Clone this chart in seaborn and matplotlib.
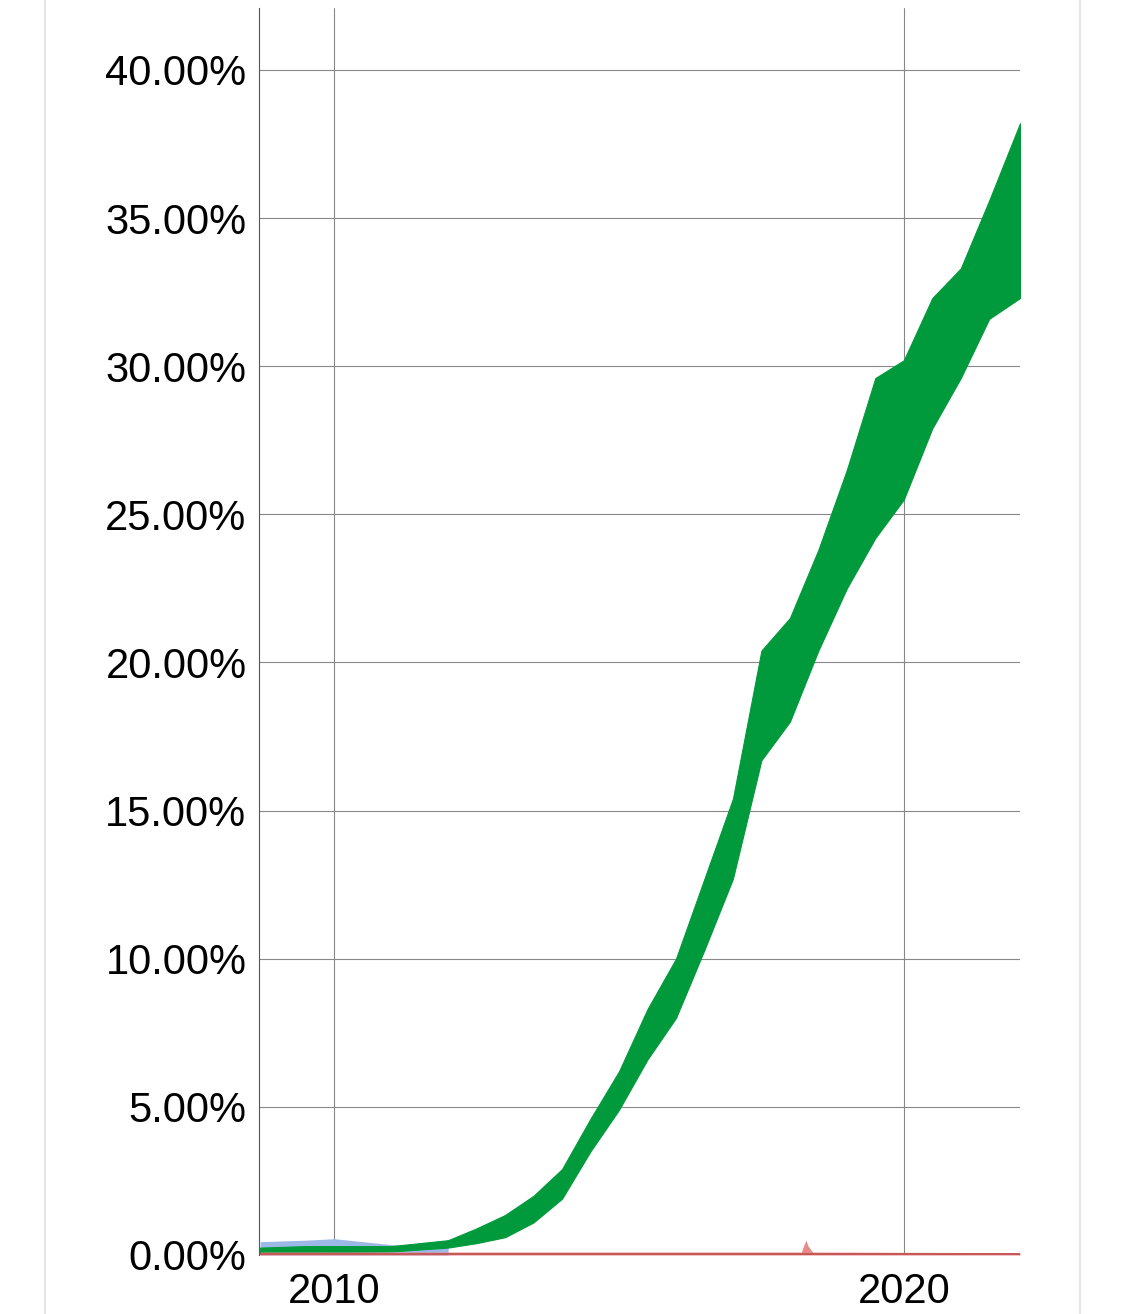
import matplotlib
matplotlib.use('Agg')
import matplotlib.pyplot as plt
import seaborn as sns
import pandas as pd
from matplotlib.ticker import FuncFormatter

# IPv6 adoption envelope (daily low / high), percent
years = [2008.7, 2009.5, 2010.0, 2011.0, 2012.0, 2012.5, 2013.0, 2013.5, 2014.0, 2014.5,
         2015.0, 2015.5, 2016.0, 2016.5, 2017.0, 2017.5, 2018.0, 2018.5, 2019.0,
         2019.5, 2020.0, 2020.5, 2021.0, 2021.5, 2022.04]
low = [0.05, 0.08, 0.1, 0.12, 0.25, 0.4, 0.6, 1.1, 1.9, 3.5,
       4.9, 6.6, 8.0, 10.3, 12.7, 16.7, 18.0, 20.4, 22.5,
       24.2, 25.5, 27.9, 29.6, 31.6, 32.3]
high = [0.25, 0.3, 0.3, 0.3, 0.5, 0.9, 1.35, 2.0, 2.9, 4.6,
        6.2, 8.3, 10.0, 12.7, 15.4, 20.4, 21.5, 23.8, 26.5,
        29.6, 30.2, 32.3, 33.3, 35.6, 38.2]
blue_years = [2008.7, 2009.5, 2010.0, 2010.5, 2011.0, 2011.5, 2012.0]
blue_high = [0.45, 0.5, 0.55, 0.45, 0.35, 0.3, 0.25]
red_years = [2008.7, 2018.2, 2018.28, 2018.32, 2018.4, 2022.04]
red_high = [0.1, 0.1, 0.5, 0.3, 0.1, 0.08]

df = pd.DataFrame({'year': years, 'low': low, 'high': high})

sns.set_style('white')
plt.rcParams['font.family'] = ['Liberation Sans', 'DejaVu Sans']

fig = plt.figure(figsize=(11.25, 13.14), dpi=100)
ax = fig.add_axes([259 / 1125, 1 - 1255 / 1314, (1020 - 259) / 1125, (1255 - 8) / 1314])

ax.fill_between(blue_years, 0, blue_high, color='#9bb8e6', lw=0)
ax.fill_between(df['year'], df['low'], df['high'], color='#009a3c', lw=0.8, edgecolor='#009a3c')
ax.fill_between(red_years, 0, red_high, color='#e88a8a', lw=0)
ax.axhline(0.02, color='#c0504d', lw=1.2)

ax.set_xlim(2008.68, 2022.04)
ax.set_ylim(0, 42.09)
ax.set_yticks([0, 5, 10, 15, 20, 25, 30, 35, 40])
ax.yaxis.set_major_formatter(FuncFormatter(lambda v, p: f'{v:.2f}%'))
ax.set_xticks([2010, 2020])
ax.set_xticklabels(['2010', '2020'])
ax.grid(True, color='#888888', lw=0.8)
ax.set_axisbelow(True)
ax.tick_params(labelsize=30, length=0, pad=12, colors='black')
ax.tick_params(axis='y', pad=9)
for s in ['top', 'right', 'bottom']:
    ax.spines[s].set_visible(False)
ax.spines['left'].set_color('#555555')
ax.spines['left'].set_linewidth(0.8)

# card borders
fig.add_artist(plt.Line2D([45 / 1125, 45 / 1125], [0, 1], color='#e6e6e6', lw=1.5))
fig.add_artist(plt.Line2D([1080 / 1125, 1080 / 1125], [0, 1], color='#e6e6e6', lw=1.5))

fig.savefig('out.png', dpi=100)
